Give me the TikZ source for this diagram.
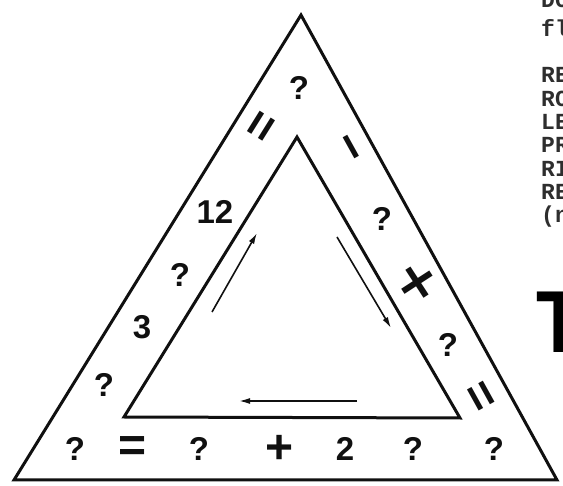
\documentclass[tikz,border=0pt]{standalone}
\usepackage{fontspec}
\setsansfont{Liberation Sans}
\newfontfamily\pagefont{Liberation Mono}
\usetikzlibrary{arrows.meta}
\definecolor{puzink}{HTML}{101010}
\definecolor{puzgrey}{HTML}{2E2E2E}
\tikzset{
  >=Latex,
  font=\sffamily\bfseries,
  band/.style={draw=puzink,line width=3pt,line join=miter},
  cell/.style={inner sep=0pt,text=puzink,
               font=\sffamily\bfseries\fontsize{33}{33}\selectfont},
  opsign/.style={cell,font=\sffamily\bfseries\fontsize{48}{48}\selectfont},
  flow/.style={line width=1.6pt,draw=puzink,-{Latex[length=11pt,width=6pt]}},
  margin/.style={anchor=base west,inner sep=0pt,text=puzgrey,
                 font=\pagefont\bfseries\fontsize{23}{23}\selectfont},
}
\begin{document}
\begin{tikzpicture}[x=1pt,y=-1pt]
  \useasboundingbox (0,0) rectangle (563,486);
  \clip (0,0) rectangle (563,486);

  % the two triangles of the track
  \coordinate (OA) at (301,15);
  \coordinate (OL) at (14,480);
  \coordinate (OR) at (557,480);
  \coordinate (IA) at (297,137);
  \coordinate (IL) at (124,417);
  \coordinate (IR) at (460,418);
  \draw[band] (OA) -- (OL) -- (OR) -- cycle;
  \draw[band] (IA) -- (IL) -- (IR) -- cycle;

  % direction of reading
  \coordinate (up0) at (212,312);   \coordinate (up1) at (257,233);
  \coordinate (dn0) at (337,237);   \coordinate (dn1) at (391,328);
  \coordinate (bk0) at (357,401);   \coordinate (bk1) at (239,401);
  \draw[flow] (up0) -- (up1);
  \draw[flow] (dn0) -- (dn1);
  \draw[flow] (bk0) -- (bk1);

  % left side
  \node[cell] (q1) at (104,385) {?};
  \node[cell] (n3) at (142,327) {3};
  \node[cell] (q2) at (180,275) {?};
  \node[cell] (n12) at (215,212) {12};
  \node[opsign,rotate=58] (eqL) at (264,128) {=};
  \node[cell] (q3) at (299,88) {?};

  % right side
  \node[opsign,rotate=-61] (minus) at (345,150) {−};
  \node[cell] (q4) at (382,219) {?};
  \node[opsign,rotate=-12,font=\sffamily\bfseries\fontsize{56}{56}\selectfont] (times) at (417,285) {×};
  \node[cell] (q5) at (448,345) {?};
  \node[opsign,rotate=-61] (eqR) at (478,398) {=};

  % bottom
  \node[cell] (q6) at (494,449) {?};
  \node[cell] (q7) at (413,449) {?};
  \node[cell] (n2) at (345,449) {2};
  \node[opsign] (plus) at (280,449) {+};
  \node[cell] (q8) at (199,449) {?};
  \node[opsign] (eqB) at (133,449) {=};
  \node[cell] (q9) at (75,449) {?};

  % page text cut off at the right edge
  \node[margin] (t1) at (541,8) {DO};
  \node[margin] (t2) at (541,37) {fl};
  \node[margin] (t3) at (541,83) {RE};
  \node[margin] (t4) at (541,107) {RO};
  \node[margin] (t5) at (541,130) {LE};
  \node[margin] (t6) at (541,153) {PR};
  \node[margin] (t7) at (541,177) {RI};
  \node[margin] (t8) at (541,200) {RE};
  \node[margin] (t9) at (541,223) {(n};
  \node[anchor=base west,inner sep=0pt,xscale=0.85,transform shape,
        font=\sffamily\bfseries\fontsize{88}{88}\selectfont] (bigT) at (536,353) {T};
\end{tikzpicture}
\end{document}
